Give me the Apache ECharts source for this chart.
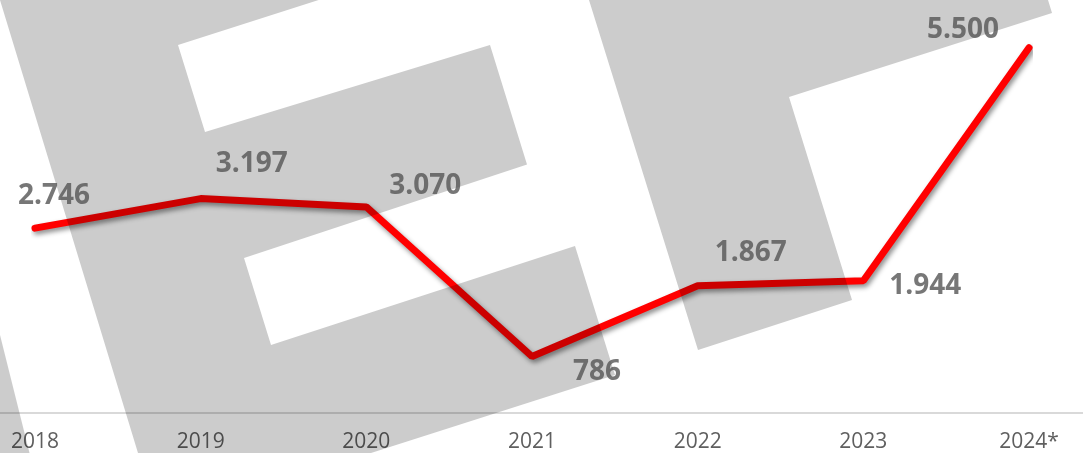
<!DOCTYPE html>
<html>
<head>
<meta charset="utf-8">
<script src="https://cdn.jsdelivr.net/npm/echarts@6/dist/echarts.min.js"></script>
<style>
html,body{margin:0;padding:0;background:#fff;}
#chart{width:1083px;height:453px;}
</style>
</head>
<body>
<div id="chart"></div>
<script>
const categories = ['2018', '2019', '2020', '2021', '2022', '2023', '2024*'];
const values = [2746, 3197, 3070, 786, 1867, 1944, 5500];
// label placement (layout only, pixels relative to each point)
const labelOffsets = [[19, -32], [51, -35], [59, -21], [65, 16], [53, -33], [62, 5], [-66, -18]];

function fmt(v) {
  return String(v).replace(/\B(?=(\d{3})+(?!\d))/g, '.');
}

// decorative background watermark (logo), pixel polygons
const watermark = [
  [[0,0],[318.6,0],[178,45],[205,132],[490,45],[527,164.5],[244,258],[271,345],[575,246],[615,375],[371,453],[138,453]],
  [[589,0],[1048,0],[1052,13],[789,97],[852,300],[698,350]],
  [[0,335],[29.5,453],[0,453]]
];

const chart = echarts.init(document.getElementById('chart'), null, {renderer: 'canvas'});
const graphics = watermark.map(pts => ({
  type: 'polygon',
  z: 5,
  silent: true,
  shape: {points: pts},
  style: {fill: '#cccccc', blend: 'multiply'}
}));
// full-width baseline (decorative, drawn below the watermark)
graphics.push({
  type: 'line', z: 1, silent: true,
  shape: {x1: 0, y1: 413, x2: 1083, y2: 413},
  style: {stroke: '#d9d9d9', lineWidth: 2}
});

chart.setOption({
  animation: false,
  backgroundColor: '#ffffff',
  grid: {left: 35, right: 54, top: 15, bottom: 39, containLabel: false},
  xAxis: {
    type: 'category',
    data: categories,
    boundaryGap: false,
    axisLine: {show: false},
    axisTick: {show: false},
    axisLabel: {fontFamily: 'Open Sans', fontSize: 21, color: '#5f5f5f', margin: 24}
  },
  yAxis: {type: 'value', min: 0, max: 6000, show: false, splitLine: {show: false}},
  graphic: graphics,
  series: [
    {
      type: 'line',
      data: values,
      z: 2,
      symbol: 'none',
      lineStyle: {
        color: '#ff0000', width: 7, cap: 'round',
        shadowColor: 'rgba(0,0,0,0.45)', shadowBlur: 5, shadowOffsetX: 2, shadowOffsetY: 3
      }
    },
    {
      type: 'scatter',
      data: values.map((v, i) => ({value: v, label: {offset: labelOffsets[i]}})),
      z: 10,
      symbolSize: 1,
      itemStyle: {color: 'rgba(0,0,0,0)'},
      label: {
        show: true,
        position: 'inside',
        align: 'center',
        verticalAlign: 'middle',
        fontFamily: 'Open Sans',
        fontWeight: 'bold',
        fontSize: 28,
        color: '#555555',
        formatter: p => fmt(p.value)
      }
    }
  ]
});
</script>
</body>
</html>
